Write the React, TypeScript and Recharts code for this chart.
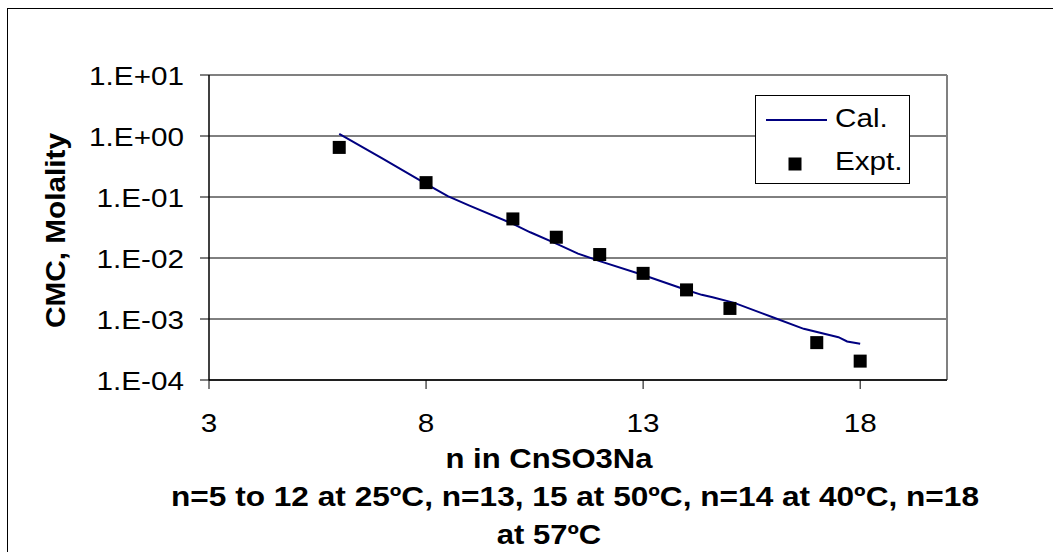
import React from "react";
import {
    ComposedChart,
    Line,
    Scatter,
    XAxis,
    YAxis,
    CartesianGrid,
    ReferenceLine,
} from "recharts";

// Experimental CMC values (molality) for CnSO3Na
const exptN = [6, 8, 10, 11, 12, 13, 14, 15, 17, 18];
const exptCmc = [0.65, 0.172, 0.0437, 0.0219, 0.0114, 0.0056, 0.003, 0.00149, 0.00041, 0.000204];

// Calculated curve
const calcN = [6, 7, 8, 8.5, 9, 10, 10.4, 11, 11.5, 12, 13, 14, 14.35, 14.6, 15.1, 16, 16.7, 17.5, 17.7, 18];
const calcCmc = [
    1.08, 0.425, 0.164, 0.103, 0.0722, 0.0362, 0.0264, 0.0172, 0.0118, 0.0089, 0.00525, 0.00299,
    0.00249, 0.00228, 0.00184, 0.00106, 0.00069, 0.000503, 0.000428, 0.000392,
];

const xTicks = [3, 8, 13, 18];
const yTicks = [1e-4, 1e-3, 1e-2, 1e-1, 1, 10];
const yTickLabels = ["1.E-04", "1.E-03", "1.E-02", "1.E-01", "1.E+00", "1.E+01"];

const FONT = "'Liberation Sans', Arial, sans-serif";
const NAVY = "#000080";

const exptData = exptN.map((n, i) => ({ n, cmc: exptCmc[i] }));
const calcData = calcN.map((n, i) => ({ n, cmc: calcCmc[i] }));

function YTick(props: any) {
    const { x, y, payload } = props;
    const idx = yTicks.findIndex((t) => Math.abs(Math.log10(t) - Math.log10(payload.value)) < 1e-6);
    return (
        <text
            x={0}
            y={0}
            transform={`translate(${x},${y + 9.5}) scale(1.12,1)`}
            textAnchor="end"
            fontFamily={FONT}
            fontSize={26.5}
            fill="#000"
        >
            {idx >= 0 ? yTickLabels[idx] : ""}
        </text>
    );
}

function XTick(props: any) {
    const { x, y, payload } = props;
    return (
        <text
            x={0}
            y={0}
            transform={`translate(${x},${y + 41}) scale(1.12,1)`}
            textAnchor="middle"
            fontFamily={FONT}
            fontSize={26.5}
            fill="#000"
        >
            {payload.value}
        </text>
    );
}

// axis title block: the wrapped second line sits a bit right of the other two
function XTitle(props: any) {
    const vb = props.viewBox || {};
    const cx = vb.x != null ? vb.x + vb.width / 2 : 578;
    const top = vb.y != null ? vb.y : 380;
    const boldText = {
        fontFamily: FONT,
        fontWeight: "bold" as const,
        fontSize: 27.5,
        fill: "#000",
        textAnchor: "middle" as const,
    };
    return (
        <g>
            <text x={0} y={0} transform={`translate(${cx - 29},${top + 88}) scale(1.13,1)`} {...boldText}>
                n in CnSO3Na
            </text>
            <text
                x={cx - 3}
                y={top + 126}
                textLength={808}
                lengthAdjust="spacingAndGlyphs"
                {...boldText}
            >
                n=5 to 12 at 25ºC, n=13, 15 at 50ºC, n=14 at 40ºC, n=18
            </text>
            <text x={0} y={0} transform={`translate(${cx - 29},${top + 164}) scale(1.13,1)`} {...boldText}>
                at 57ºC
            </text>
        </g>
    );
}

function YTitle(props: any) {
    const vb = props.viewBox || {};
    const cy = vb.y != null ? vb.y + vb.height / 2 : 227;
    return (
        <text
            x={0}
            y={0}
            transform={`translate(65,${cy + 3}) rotate(-90)`}
            textAnchor="middle"
            fontFamily={FONT}
            fontWeight="bold"
            fontSize={28}
            textLength={195}
            lengthAdjust="spacingAndGlyphs"
            fill="#000"
        >
            CMC, Molality
        </text>
    );
}

function SquareDot(props: any) {
    const { cx, cy } = props;
    if (cx == null || cy == null) return null;
    return <rect x={cx - 6.5} y={cy - 6.5} width={13} height={13} fill="#000" />;
}

function LegendBox() {
    return (
        <svg width={156} height={90} style={{ display: "block" }}>
            <rect x={0.5} y={0.5} width={154} height={88} fill="#fff" stroke="#000" strokeWidth={1} />
            <line x1={11} y1={25} x2={72} y2={25} stroke={NAVY} strokeWidth={2} />
            <text x={0} y={0} transform="translate(80,32) scale(1.12,1)" fontFamily={FONT} fontSize={26.5} fill="#000">
                Cal.
            </text>
            <rect x={33.5} y={62.5} width={13} height={13} fill="#000" />
            <text x={0} y={0} transform="translate(80,75) scale(1.12,1)" fontFamily={FONT} fontSize={26.5} fill="#000">
                Expt.
            </text>
        </svg>
    );
}

export default function App() {
    return (
        <div style={{ position: "fixed", inset: 0, background: "#fff", overflow: "hidden" }}>
            <div
                style={{
                    position: "absolute",
                    left: 7,
                    top: 8,
                    right: -5,
                    bottom: -5,
                    borderTop: "1px solid #000",
                    borderLeft: "1px solid #000",
                }}
            />
            <div style={{ position: "absolute", left: 0, top: 0 }}>
                <ComposedChart width={1053} height={552} margin={{ top: 75, right: 106, left: 0, bottom: 0 }}>
                    <CartesianGrid vertical={false} stroke="#000" strokeWidth={1} />
                    <XAxis
                        type="number"
                        dataKey="n"
                        domain={[3, 20]}
                        ticks={xTicks}
                        height={172}
                        allowDataOverflow
                        axisLine={{ stroke: "#000", strokeWidth: 1.5 }}
                        tickLine={{ stroke: "#000", strokeWidth: 1 }}
                        tickSize={9}
                        tickMargin={2}
                        tick={(p: any) => <XTick {...p} />}
                        label={<XTitle />}
                    />
                    <YAxis
                        type="number"
                        dataKey="cmc"
                        scale="log"
                        domain={[1e-4, 10]}
                        ticks={yTicks}
                        width={209}
                        allowDataOverflow
                        axisLine={{ stroke: "#000", strokeWidth: 1.5 }}
                        tickLine={{ stroke: "#000", strokeWidth: 1 }}
                        tickSize={9}
                        tickMargin={16}
                        tick={(p: any) => <YTick {...p} />}
                        label={<YTitle />}
                    />
                    <ReferenceLine y={10} stroke="#808080" strokeWidth={2} />
                    <ReferenceLine x={20} stroke="#808080" strokeWidth={2} />
                    <Line
                        data={calcData}
                        dataKey="cmc"
                        type="linear"
                        stroke={NAVY}
                        strokeWidth={2}
                        dot={false}
                        isAnimationActive={false}
                        name="Cal."
                    />
                    <Scatter
                        data={exptData}
                        dataKey="cmc"
                        fill="#000"
                        shape={(p: any) => <SquareDot {...p} />}
                        isAnimationActive={false}
                        name="Expt."
                    />
                </ComposedChart>
            </div>
            <div style={{ position: "absolute", left: 755, top: 95 }}>
                <LegendBox />
            </div>
        </div>
    );
}
